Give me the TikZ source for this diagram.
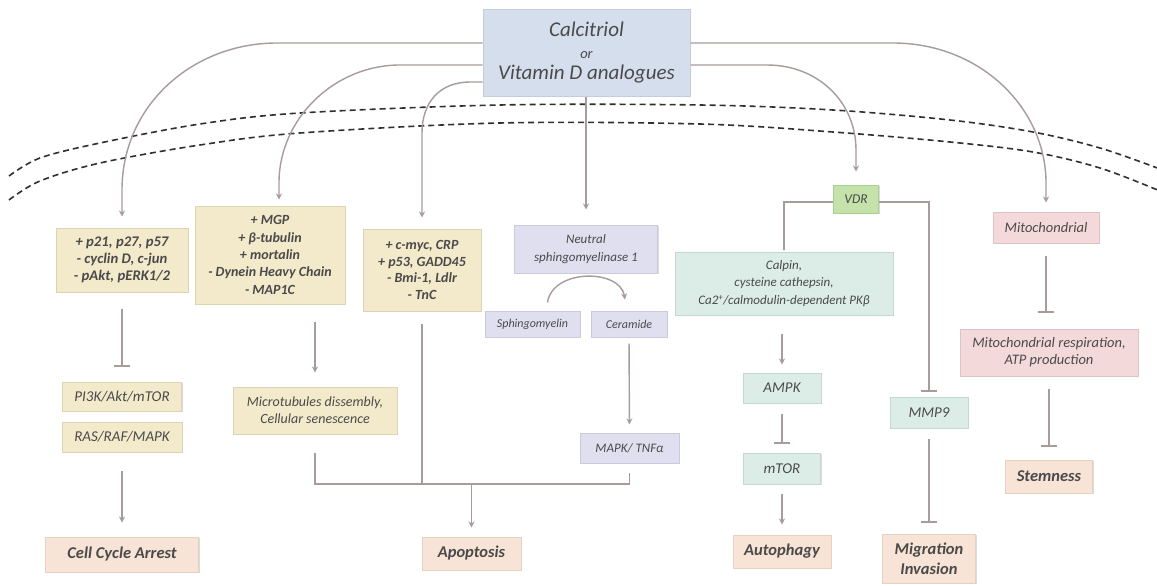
\documentclass[tikz,border=0pt]{standalone}
\usepackage{fontspec}
\setmainfont{Carlito}
\usetikzlibrary{arrows.meta,calc,shadows}
\definecolor{topF}{HTML}{D5DEED}\definecolor{topB}{HTML}{C4CDDE}
\definecolor{yelF}{HTML}{F3EACB}\definecolor{yelB}{HTML}{DDD3B0}
\definecolor{lavF}{HTML}{E0DFF0}\definecolor{lavB}{HTML}{CBC9E0}
\definecolor{minF}{HTML}{DCEDE8}\definecolor{minB}{HTML}{C3D8D1}
\definecolor{vdrF}{HTML}{C4E2A9}\definecolor{vdrB}{HTML}{AACF8F}
\definecolor{pnkF}{HTML}{F3D9DA}\definecolor{pnkB}{HTML}{DFC2C4}
\definecolor{pchF}{HTML}{F8E4D6}\definecolor{pchB}{HTML}{E6D0C0}
\definecolor{lineC}{HTML}{A89B9B}
\definecolor{txtC}{HTML}{4A4A4A}
\definecolor{memC}{HTML}{303030}
\begin{document}
\begin{tikzpicture}[x=1pt,y=-1pt,
  bx/.style={inner sep=0pt, align=center, text=txtC, line width=1pt,
    font=\itshape\fontsize{14}{17}\selectfont,
    drop shadow={shadow xshift=1.2pt, shadow yshift=-1.2pt, fill=black!14, opacity=1}},
  bbx/.style={bx, font=\bfseries\itshape\fontsize{14}{17.3}\selectfont},
  obx/.style={bx, fill=pchF, draw=pchB, font=\bfseries\itshape\fontsize{16.5}{20}\selectfont},
  ybox/.style={bx, fill=yelF, draw=yelB},
  lbox/.style={bx, fill=lavF, draw=lavB},
  mbox/.style={bx, fill=minF, draw=minB},
  pbox/.style={bx, fill=pnkF, draw=pnkB},
  wh/.style 2 args={minimum width=#1pt, minimum height=#2pt},
  conn/.style={draw=lineC, line width=1.4pt},
  arr/.style={conn, -{Stealth[length=6pt,width=6pt]}},
  tee/.style={conn, -{Bar[width=16pt,line width=1.4pt]}},
  membrane/.style={draw=memC, line width=1.6pt, dash pattern=on 6pt off 4pt}
]
\useasboundingbox (0,0) rectangle (1157,586);
\fill[white] (0,0) rectangle (1157,586);

% membrane
\draw[membrane] plot[smooth, tension=0.55] coordinates {(9,176) (40,158) (100,143) (200,124) (300,113) (500,105) (700,105) (833,110) (950,120) (1033,132) (1100,148) (1160,169)};
\draw[membrane] plot[smooth, tension=0.55] coordinates {(9,200) (40,181) (100,163) (200,145) (300,133) (500,123) (700,124) (833,132) (950,142) (1033,152) (1100,168) (1160,191)};

% top
\node[bx, fill=topF, draw=topB, wh={207}{86}, font=\itshape\fontsize{21}{21.5}\selectfont] (top) at (586.5,53)
  {Calcitriol\\{\fontsize{14.5}{15}\selectfont or}\\Vitamin D analogues};

% column 1
\node[ybox, bbx, wh={132}{64}, font=\bfseries\itshape\fontsize{14.7}{17}\selectfont] (p21) at (122,260) {+ p21, p27, p57\\- cyclin D, c-jun\\- pAkt, pERK1/2};
\node[ybox, wh={119}{29}, font=\itshape\fontsize{15}{17}\selectfont] (pi3k) at (122,396.5) {PI3K/Akt/mTOR};
\node[ybox, wh={120}{30}, font=\itshape\fontsize{15}{17}\selectfont] (ras) at (122,437) {RAS/RAF/MAPK};
\node[obx, wh={153}{35}] (cca) at (122,554.5) {Cell Cycle Arrest};

% column 2
\node[ybox, bbx, wh={150}{98}] (mgp) at (270,255) {+ MGP\\+ β-tubulin\\+ mortalin\\- Dynein Heavy Chain\\- MAP1C};
\node[ybox, wh={164}{47}] (micro) at (315,410.5) {Microtubules dissembly,\\Cellular senescence};

% column 3
\node[ybox, bbx, wh={118}{82}, font=\bfseries\itshape\fontsize{14}{16.7}\selectfont] (cmyc) at (422,270) {+ c-myc, CRP\\+ p53, GADD45\\- Bmi-1, Ldlr\\- TnC};
\node[obx, wh={99}{33}] (apop) at (471.5,553.5) {Apoptosis};

% column 4
\node[lbox, wh={143}{48}, font=\itshape\fontsize{13}{18}\selectfont] (neut) at (586,249) {Neutral\\sphingomyelinase 1};
\node[lbox, wh={95}{26}, font=\itshape\fontsize{12}{13}\selectfont] (sph) at (532.5,324) {Sphingomyelin};
\node[lbox, wh={76}{26}, font=\itshape\fontsize{12}{13}\selectfont] (cer) at (629,324) {Ceramide};
\node[lbox, wh={99}{30}, font=\itshape\fontsize{13}{15}\selectfont] (mapk) at (629.5,448) {MAPK/ TNFα};

% VDR branch
\node[bx, fill=vdrF, draw=vdrB, wh={45}{28}, font=\itshape\fontsize{13.5}{15}\selectfont] (vdr) at (856,199) {VDR};
\node[mbox, wh={218}{63}, font=\itshape\fontsize{13}{17.5}\selectfont] (calp) at (784,283.5) {Calpin,\\cysteine cathepsin,\\Ca2\textsuperscript{+}/calmodulin-dependent PKβ};
\node[mbox, wh={78}{30}, font=\itshape\fontsize{15}{17}\selectfont] (ampk) at (782,388) {AMPK};
\node[mbox, wh={77}{31}, font=\itshape\fontsize{15}{17}\selectfont] (mtor) at (782,468.5) {mTOR};
\node[obx, wh={98}{33}] (auto) at (782,551.5) {Autophagy};
\node[mbox, wh={78}{31}, font=\itshape\fontsize{15}{17}\selectfont] (mmp9) at (929,412.5) {MMP9};
\node[obx, wh={93}{49}] (migr) at (929,558.5) {Migration\\Invasion};

% mitochondrial
\node[pbox, wh={106}{31}, font=\itshape\fontsize{14.5}{17}\selectfont] (mito) at (1046,227.5) {Mitochondrial};
\node[pbox, wh={178}{47}, font=\itshape\fontsize{14.5}{17}\selectfont] (resp) at (1049,352.5) {Mitochondrial respiration,\\ATP production};
\node[obx, wh={87}{33}] (stem) at (1049,476.5) {Stemness};

% curves from top box
\draw[arr, shorten >=11pt] (top.west |- 0,43) -- (277,43) .. controls (193,43) and (122,105) .. (122,190) -- (p21.north);
\draw[arr, shorten >=6pt] (top.west |- 0,65) -- (400,65) .. controls (335,65) and (279,118) .. (279,183) -- (279,0 |- mgp.north);
\draw[arr, shorten >=11pt] (top.west |- 0,82) -- (470,82) .. controls (440,82) and (422,102) .. (422,133) -- (cmyc.north);
\draw[arr, shorten >=13pt] (top.east |- 0,65) -- (767,65) .. controls (818,65) and (856,102) .. (856,150) -- (vdr.north);
\draw[arr, shorten >=9pt] (top.east |- 0,43) -- (893,43) .. controls (980,43) and (1046,108) .. (1046,183) -- (mito.north);
\draw[arr, shorten >=15pt] (top.south -| neut.north) -- (neut.north);

% column 1
\draw[tee, shorten <=16pt, shorten >=15pt] (p21.south) -- (pi3k.north);
\draw[arr, shorten <=18pt, shorten >=14pt] (ras.south) -- (cca.north);

% column 2/3 -> apoptosis
\draw[arr, shorten <=17pt, shorten >=14pt] (mgp.south -| micro.north) -- (micro.north);
\draw[conn, shorten <=18pt, shorten >=9pt] (micro.south) -- (micro.south |- 0,484) -| (mapk.south);
\draw[conn, shorten <=12pt] (cmyc.south) -- (cmyc.south |- 0,484);
\draw[arr, shorten >=9pt] (apop.north |- 0,484) -- (apop.north);

% sphingomyelin
\draw[arr] ($(sph.north)+(15,-8)$) .. controls ($(sph.north)+(20,-42)$) and ($(cer.north)+(-9,-42)$) .. ($(cer.north)+(-4,-11)$);
\draw[arr, shorten <=6pt, shorten >=8pt] (cer.south) -- (mapk.north);

% VDR branch
\draw[conn, shorten >=2pt] (vdr.west |- 0,202) -| (calp.north);
\draw[tee, shorten >=5pt] (vdr.east |- 0,202) -| (mmp9.north);
\draw[arr, shorten <=18pt, shorten >=8pt] (calp.south -| ampk.north) -- (ampk.north);
\draw[tee, shorten <=10pt, shorten >=9pt] (ampk.south) -- (mtor.north);
\draw[arr, shorten <=9pt, shorten >=10pt] (mtor.south) -- (auto.north);
\draw[tee, shorten <=10pt, shorten >=11pt] (mmp9.south) -- (migr.north);

% mitochondrial
\draw[tee, shorten <=12pt, shorten >=16pt] (mito.south) -- (mito.south |- resp.north);
\draw[tee, shorten <=12pt, shorten >=13pt] (resp.south) -- (stem.north);
\end{tikzpicture}
\end{document}
